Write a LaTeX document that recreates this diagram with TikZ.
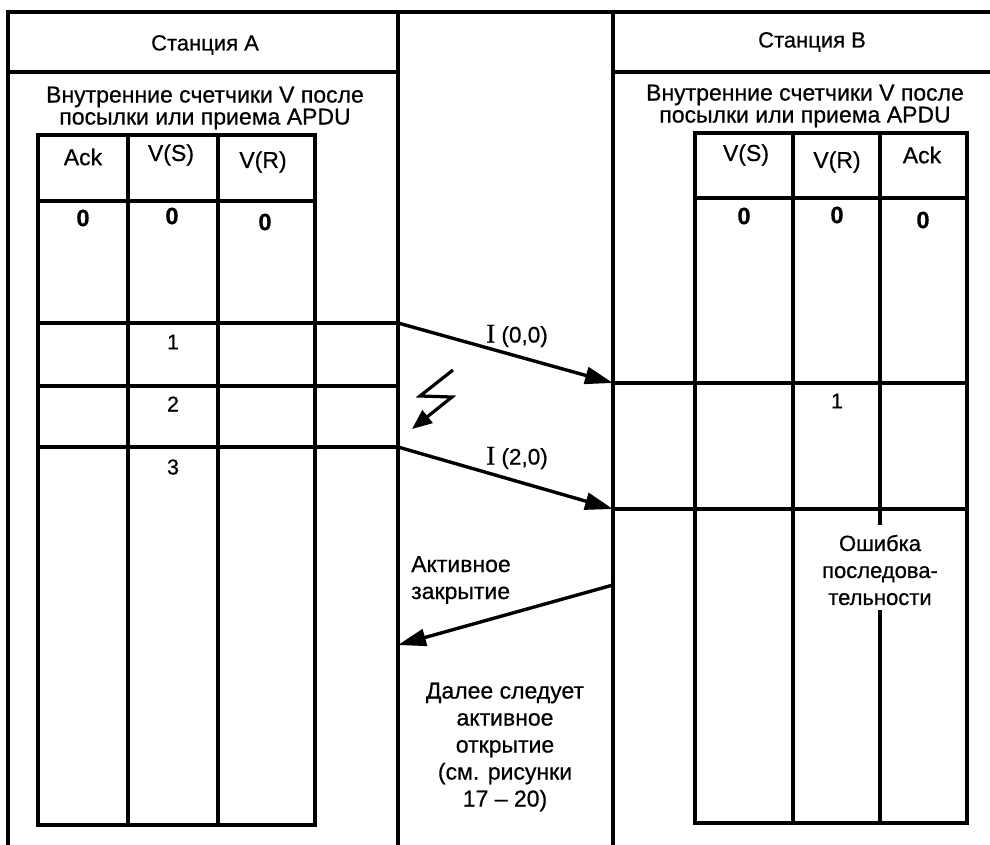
\documentclass[tikz,border=0pt]{standalone}
\usepackage{fontspec}
\setmainfont{Liberation Sans}[FakeBold=0.6]
\newfontfamily\serifI{Liberation Serif}[FakeBold=0.4]
\usetikzlibrary{arrows.meta}
\begin{document}
\begin{tikzpicture}[x=1pt,y=-1pt,
  frame/.style={line width=3.4pt},
  grid/.style={line width=3.4pt},
  msg/.style={line width=3.4pt,-{Triangle[length=28pt,width=17pt]}},
  bolt/.style={line width=3.2pt,-{Triangle[length=20pt,width=16pt]}},
  head/.style={font=\fontsize{22}{24}\selectfont,inner sep=0pt},
  sub/.style={font=\fontsize{23}{22}\selectfont,align=center,inner sep=0pt},
  col/.style={font=\fontsize{23}{24}\selectfont,inner sep=0pt},
  zero/.style={font=\fontsize{23.5}{24}\selectfont\bfseries,inner sep=0pt},
  num/.style={font=\fontsize{21.5}{23}\selectfont,inner sep=0pt},
  note/.style={font=\fontsize{23}{27}\selectfont,inner sep=0pt},
  errnote/.style={font=\fontsize{22}{27}\selectfont,inner sep=0pt},
  lbl/.style={font=\fontsize{22.5}{24}\selectfont,inner sep=0pt}]
\useasboundingbox (0,0) rectangle (990,845);

% outer frame
\draw[frame] (8,845) -- (8,12) -- (990,12);
\draw[frame] (398,12) -- (398,845);
\draw[frame] (613,12) -- (613,845);
\draw[frame] (8,72) -- (398,72);
\draw[frame] (613,72) -- (990,72);

% headers
\node[head] (hA) at (205,45) {Станция A};
\node[head] (hB) at (812,42) {Станция B};
\node[sub] (sA) at (205,108) {Внутренние счетчики V после\\посылки или приема APDU};
\node[sub] (sB) at (805,106) {Внутренние счетчики V после\\посылки или приема APDU};

% table A
\draw[grid] (38,135) rectangle (315,825);
\foreach \x in {128,218} \draw[grid] (\x,135) -- (\x,825);
\draw[grid] (38,201) -- (315,201);
\foreach \y in {323,386,447} \draw[grid] (38,\y) -- (398,\y);

\node[col] (aAck) at (83,157) {Ack};
\node[col] (aVS) at (171,155) {V(S)};
\node[col] (aVR) at (263,162) {V(R)};
\node[zero] (a0a) at (83,218) {0};
\node[zero] (a0b) at (172,216) {0};
\node[zero] (a0c) at (265,222) {0};
\node[num] (a1) at (173,342) {1};
\node[num] (a2) at (173,404) {2};
\node[num] (a3) at (173,467) {3};

% table B
\draw[grid] (695,133) rectangle (967,823);
\draw[grid] (793,133) -- (793,823);
\draw[grid] (880,133) -- (880,525);
\draw[grid] (880,610) -- (880,823);
\draw[grid] (695,198) -- (967,198);
\foreach \y in {383,509} \draw[grid] (613,\y) -- (967,\y);

\node[col] (bVS) at (746,155) {V(S)};
\node[col] (bVR) at (837,162) {V(R)};
\node[col] (bAck) at (922,155) {Ack};
\node[zero] (b0a) at (744,216) {0};
\node[zero] (b0b) at (837,215) {0};
\node[zero] (b0c) at (923,220) {0};
\node[num] (b1) at (837,401) {1};
\node[errnote,align=center] (err) at (880,570) {Ошибка\\последова-\\тельности};

% messages
\coordinate (s1) at (398,323);
\coordinate (e1) at (613,383);
\coordinate (s2) at (398,447);
\coordinate (e2) at (613,509);
\coordinate (s3) at (613,585);
\coordinate (e3) at (398,645);
\draw[msg] (s1) -- (e1);
\draw[msg] (s2) -- (e2);
\draw[msg] (s3) -- (e3);
\node[lbl] (l1) at (517,336) {{\serifI\fontsize{27}{27}\selectfont I} (0,0)};
\node[lbl] (l2) at (517,458) {{\serifI\fontsize{27}{27}\selectfont I} (2,0)};

% lightning
\coordinate (z1) at (453,370);
\coordinate (z2) at (420,396);
\coordinate (z3) at (452,397);
\coordinate (z4) at (412,429);
\draw[bolt] (z1) -- (z2) -- (z3) -- (z4);

\node[note,align=left,anchor=west] (close) at (411,580) {Активное\\закрытие};
\node[note,align=center] (next) at (505,747) {Далее следует\\активное\\открытие\\(см. рисунки\\17 -- 20)};
\end{tikzpicture}
\end{document}
